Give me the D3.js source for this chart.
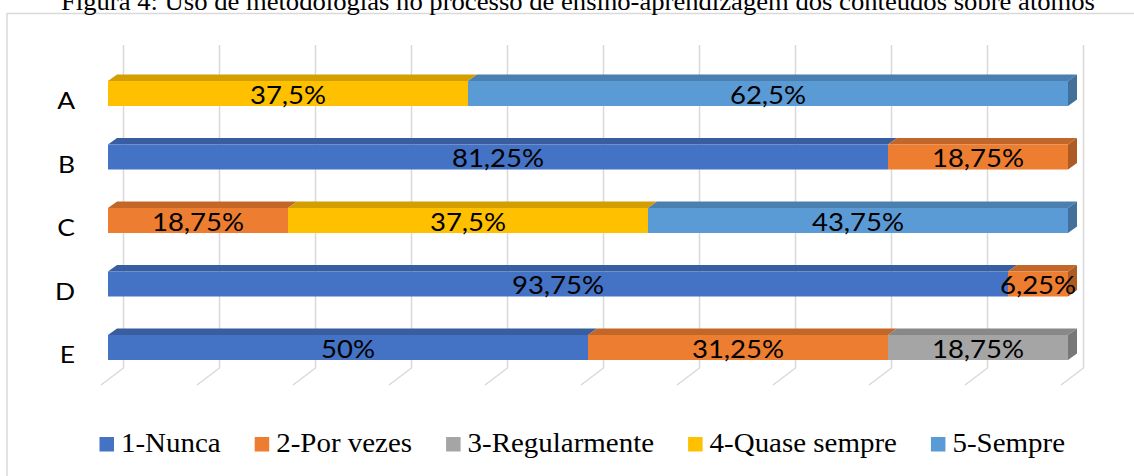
<!DOCTYPE html>
<html><head><meta charset="utf-8">
<script src="https://cdn.jsdelivr.net/npm/d3@7"></script>
<style>html,body{margin:0;padding:0;background:#fff;}svg{display:block;}</style>
</head><body>
<svg id="c" width="1134" height="476"></svg>
<script>
const title = "Figura 4: Uso de metodologias no processo de ensino-aprendizagem dos conteúdos sobre átomos";
const categories = ["A", "B", "C", "D", "E"];
const seriesNames = ["1-Nunca", "2-Por vezes", "3-Regularmente", "4-Quase sempre", "5-Sempre"];
const seriesColors = ["#4472C4", "#ED7D31", "#A5A5A5", "#FFC000", "#5B9BD5"];
const nunca        = [0, 81.25, 0, 93.75, 50];
const porVezes     = [0, 18.75, 18.75, 6.25, 31.25];
const regularmente = [0, 0, 0, 0, 18.75];
const quaseSempre  = [37.5, 0, 37.5, 0, 0];
const sempre       = [62.5, 0, 43.75, 0, 0];
const gridTicks = [0, 10, 20, 30, 40, 50, 60, 70, 80, 90, 100];

const seriesValues = [nunca, porVezes, regularmente, quaseSempre, sempre];
const table = categories.map((c, i) => {
  const row = {cat: c};
  seriesNames.forEach((s, j) => row[s] = seriesValues[j][i]);
  return row;
});

const svg = d3.select("#c");
const STRETCH = 1.1;

// frame
svg.append("rect").attr("x", 7).attr("y", 13.5).attr("width", 1140).attr("height", 480)
  .attr("fill", "none").attr("stroke", "#d9d9d9").attr("stroke-width", 1.5);

// title
svg.append("text").attr("x", 578).attr("y", 10).attr("text-anchor", "middle")
  .attr("font-family", "'Liberation Serif','Times New Roman',serif").attr("font-size", 26)
  .attr("textLength", 1034).attr("lengthAdjust", "spacingAndGlyphs")
  .attr("fill", "#000").text(title);

const x = d3.scaleLinear().domain([0, 100]).range([108, 1068]);
const step = 63.5, bw = 25, po = 0.3, pi = 1 - bw / step;
const r0 = 81 - po * step;
const y = d3.scaleBand().domain(categories)
  .range([r0, r0 + step * (categories.length - pi + 2 * po)])
  .paddingInner(pi).paddingOuter(po);

const DX = 9, DY = -6.5;        // bar depth
const BACKX = 15.5, FRONTX = -7; // grid offsets
const gridTop = 45, floorBack = 368, floorFront = 385;

// gridlines (back wall + floor)
const grid = svg.append("g").attr("fill", "none").attr("stroke", "#d9d9d9").attr("stroke-width", 1.5);
gridTicks.forEach(t => {
  const xb = x(t) + BACKX, xf = x(t) + FRONTX;
  grid.append("path").attr("d", `M${xb},${gridTop}L${xb},${floorBack}L${xf},${floorFront}`);
});

// bars
const stack = d3.stack().keys(seriesNames)(table);
const color = d3.scaleOrdinal().domain(seriesNames).range(seriesColors);
const barsG = svg.append("g");
categories.forEach((c, i) => {
  const yt = y(c), yb = yt + y.bandwidth();
  const segs = stack.map(s => ({key: s.key, x0: s[i][0], x1: s[i][1]})).filter(d => d.x1 - d.x0 > 0);
  segs.forEach(d => {
    const base = d3.color(color(d.key));
    const xa = x(d.x0), xz = x(d.x1);
    barsG.append("path")
      .attr("d", `M${xa},${yt}L${xa + DX},${yt + DY}L${xz + DX},${yt + DY}L${xz},${yt}Z`)
      .attr("fill", base.darker(0.55));
    barsG.append("rect").attr("x", xa).attr("y", yt).attr("width", xz - xa).attr("height", yb - yt)
      .attr("fill", base);
  });
  const last = segs[segs.length - 1];
  const xz = x(last.x1);
  barsG.append("path")
    .attr("d", `M${xz},${yt}L${xz + DX},${yt + DY}L${xz + DX},${yb + DY}L${xz},${yb}Z`)
    .attr("fill", d3.color(color(last.key)).darker(0.9));
  // labels
  segs.forEach(d => {
    const cx = (x(d.x0) + x(d.x1)) / 2;
    svg.append("text").attr("transform", `translate(${cx},${yt + 22.5}) scale(${STRETCH},1)`)
      .attr("text-anchor", "middle").attr("font-family", "Lato, sans-serif").attr("font-size", 25)
      .attr("fill", "#000").text(String(d.x1 - d.x0).replace(".", ",") + "%");
  });
  // category label
  svg.append("text").attr("transform", `translate(75,${yt + 28}) scale(${STRETCH},1)`)
    .attr("text-anchor", "end").attr("font-family", "Lato, sans-serif").attr("font-size", 24)
    .attr("fill", "#000").text(c);
});

// legend
const leg = svg.append("g");
const legStart = 99.5, legEnd = 1065, gap = 34, mark = 14.5, mgap = 7;
const items = seriesNames.map((s, j) => {
  const g = leg.append("g");
  g.append("rect").attr("x", 0).attr("y", 437).attr("width", mark).attr("height", mark).attr("fill", seriesColors[j]);
  const t = g.append("text")
    .attr("font-family", "'Liberation Serif','Times New Roman',serif").attr("font-size", 26.5)
    .attr("fill", "#000").text(s);
  return {g, t, w: t.node().getComputedTextLength()};
});
const natural = d3.sum(items, d => d.w);
const ls = (legEnd - legStart - items.length * (mark + mgap) - gap * (items.length - 1)) / natural;
let cx = legStart;
items.forEach(d => {
  d.t.attr("transform", `translate(${mark + mgap},451.5) scale(${ls},1)`);
  d.g.attr("transform", `translate(${cx},0)`);
  cx += mark + mgap + d.w * ls + gap;
});
</script>
</body></html>
